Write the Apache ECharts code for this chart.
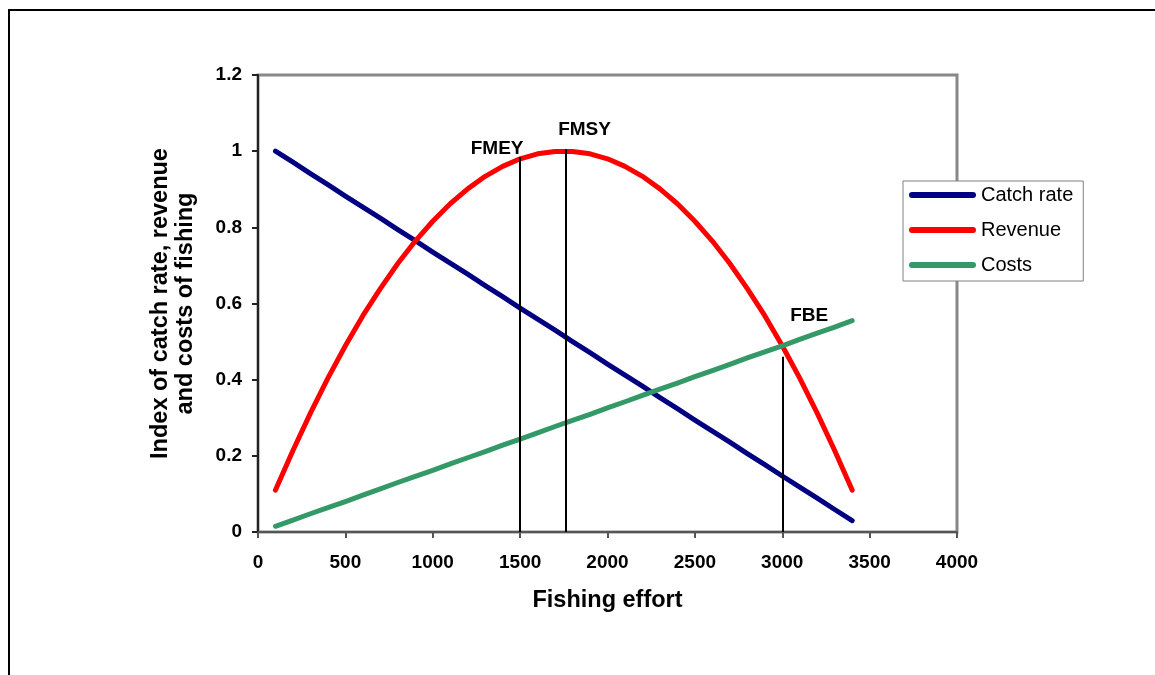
<!DOCTYPE html>
<html>
<head>
<meta charset="utf-8">
<script src="https://cdn.jsdelivr.net/npm/echarts@6/dist/echarts.min.js"></script>
<style>
    html, body { margin: 0; padding: 0; background: #fff; }
    #frame {
        position: absolute; left: 8px; top: 9px; width: 1147px; height: 666px;
        border-top: 2px solid #000; border-left: 2px solid #000;
    }
    #chart1 { position: absolute; left: 0; top: 0; width: 1155px; height: 675px; }
</style>
</head>
<body>
<div id="frame"></div>
<div id="chart1"></div>
<script>
// 横轴: 捕捞努力量
var effort = [100, 200, 300, 400, 500, 600, 700, 800, 900, 1000, 1100, 1200, 1300, 1400, 1500, 1600, 1700,
    1800, 1900, 2000, 2100, 2200, 2300, 2400, 2500, 2600, 2700, 2800, 2900, 3000, 3100, 3200, 3300, 3400];

var catchRate = [1.000, 0.971, 0.941, 0.912, 0.882, 0.853, 0.824, 0.794, 0.765, 0.735, 0.706, 0.677, 0.647, 0.618, 0.588, 0.559, 0.530,
    0.500, 0.471, 0.441, 0.412, 0.383, 0.353, 0.324, 0.294, 0.265, 0.236, 0.206, 0.177, 0.147, 0.118, 0.089, 0.059, 0.030];

var revenue = [0.11, 0.214, 0.312, 0.404, 0.489, 0.568, 0.639, 0.705, 0.764, 0.816, 0.862, 0.901, 0.934, 0.960, 0.980, 0.993, 0.999,
    0.999, 0.993, 0.980, 0.960, 0.934, 0.901, 0.862, 0.816, 0.764, 0.705, 0.639, 0.568, 0.489, 0.404, 0.312, 0.214, 0.11];

var costs = [0.015, 0.031, 0.048, 0.064, 0.080, 0.097, 0.113, 0.130, 0.146, 0.162, 0.179, 0.195, 0.211, 0.228, 0.244, 0.260, 0.277,
    0.293, 0.309, 0.326, 0.342, 0.359, 0.375, 0.391, 0.408, 0.424, 0.440, 0.457, 0.473, 0.489, 0.506, 0.522, 0.538, 0.555];

var seriesNames = ['Catch rate', 'Revenue', 'Costs'];
var colorLine = ['#000080', '#FF0000', '#339966'];

// 参考线
var markerNames = ['FMEY', 'FMSY', 'FBE'];
var markerEffort = [1500, 1760, 3000];
var markerTop = [0.985, 1.005, 0.46];
var markerOffset = [[-23, 6], [19, -5], [27, -27]];

function pairs(ys) {
    return effort.map(function (x, i) { return [x, ys[i]]; });
}

var font = '"Liberation Sans", Arial, sans-serif';
var dom1 = document.getElementById('chart1');
var myChart1 = echarts.init(dom1);

var markData = markerNames.map(function (name, i) {
    return [{
        coord: [markerEffort[i], 0]
    }, {
        coord: [markerEffort[i], markerTop[i]],
        label: {
            show: true,
            position: 'end',
            formatter: name,
            offset: markerOffset[i],
            color: '#000',
            fontFamily: font,
            fontWeight: 'bold',
            fontSize: 19
        }
    }];
});

var seriesData = [catchRate, revenue, costs].map(function (ys, idx) {
    var s = {
        name: seriesNames[idx],
        type: 'line',
        symbol: 'none',
        smooth: false,
        lineStyle: { color: colorLine[idx], width: 5, cap: 'round', join: 'round' },
        itemStyle: { color: colorLine[idx] },
        data: pairs(ys)
    };
    if (idx == 2) {
        s.markLine = {
            silent: true,
            symbol: 'none',
            animation: false,
            lineStyle: { color: '#000', width: 2, type: 'solid' },
            data: markData
        };
    }
    return s;
});

option = {
    animation: false,
    grid: {
        left: 258, top: 75, width: 699, height: 457,
        show: true, borderColor: '#888', borderWidth: 3
    },
    legend: {
        left: 903, top: 181,
        orient: 'vertical',
        padding: [3, 10, 5, 6],
        itemGap: 13,
        itemWidth: 67,
        itemHeight: 6,
        icon: 'path://M3,0 L64,0 A3,3 0 0 1 64,6 L3,6 A3,3 0 0 1 3,0 Z',
        backgroundColor: '#fff',
        borderColor: '#808080',
        borderWidth: 1,
        borderRadius: 0,
        textStyle: { fontFamily: font, fontSize: 20, lineHeight: 22, color: '#000' },
        data: seriesNames
    },
    xAxis: {
        type: 'value',
        min: 0, max: 4000, interval: 500,
        name: 'Fishing effort',
        nameLocation: 'middle',
        nameGap: 57,
        nameTextStyle: { fontFamily: font, fontWeight: 'bold', fontSize: 23.5, color: '#000' },
        axisLine: { show: true, onZero: false, lineStyle: { color: '#555', width: 2 } },
        axisTick: { show: true, length: 6, lineStyle: { color: '#555', width: 2 } },
        axisLabel: {
            margin: 21, fontFamily: font, fontWeight: 'bold', fontSize: 19, color: '#000',
            formatter: function (v) { return String(v); }
        },
        splitLine: { show: false }
    },
    yAxis: {
        type: 'value',
        min: 0, max: 1.2, interval: 0.2,
        name: 'Index of catch rate, revenue\nand costs of fishing',
        nameLocation: 'middle',
        nameGap: 60,
        nameTextStyle: { fontFamily: font, fontWeight: 'bold', fontSize: 23.5, lineHeight: 25, color: '#000', align: 'center' },
        axisLine: { show: true, lineStyle: { color: '#222', width: 2 } },
        axisTick: { show: true, length: 6, lineStyle: { color: '#222', width: 2 } },
        axisLabel: { margin: 16, fontFamily: font, fontWeight: 'bold', fontSize: 19, color: '#000' },
        splitLine: { show: false }
    },
    series: seriesData
};

if (option && typeof option === "object") {
    myChart1.setOption(option, true);
    window.onresize = myChart1.resize;
}
</script>
</body>
</html>
